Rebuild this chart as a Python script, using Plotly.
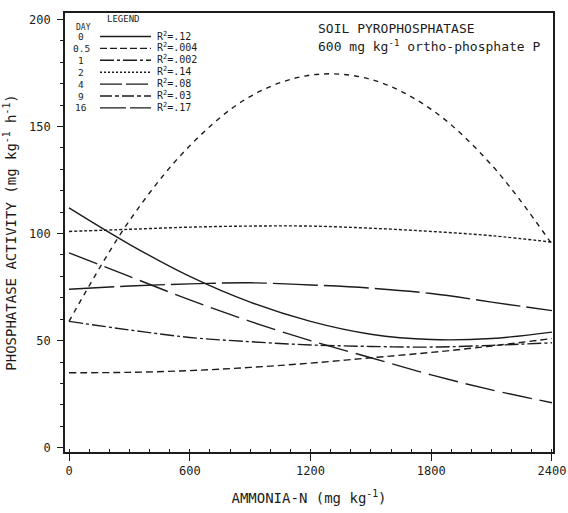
import plotly.graph_objects as go

# ---- data ----
ammonia_n = [0, 300, 600, 900, 1200, 1500, 1800, 2100, 2400]
day_labels = ["0", "0.5", "1", "2", "4", "9", "16"]
r2_labels = [".12", ".004", ".002", ".14", ".08", ".03", ".17"]
day0 = [112, 95, 80, 68, 59, 53, 50.5, 51, 54]
day05 = [35, 35.2, 36, 37.5, 39.5, 42, 44.5, 47.5, 51]
day1 = [59, 55, 51.5, 49.5, 48, 47.3, 47, 47.8, 49]
day2 = [101, 102, 103, 103.5, 103.5, 102.5, 101, 99, 96]
day4 = [74, 75.5, 76.5, 77, 76, 74.5, 72, 68, 64]
day9 = [59, 106, 141, 164, 174, 172, 158, 132, 95]
day16 = [91, 80, 69, 59, 50, 42, 34, 27, 21]
x_ticks = [0, 600, 1200, 1800, 2400]
y_ticks = [0, 50, 100, 150, 200]

series = [day0, day05, day1, day2, day4, day9, day16]
dashes = ["solid", "7px,4px", "14px,3px,3px,3px", "3px,2px",
          "45px,6px", "5px,5px", "30px,8px"]
legend_dashes = ["solid", "7px,3px", "14px,3px,3px,3px", "2px,2px",
                 "22px,4px", "12px,3px,4px,3px", "26px,4px"]

W, H = 568, 513
ML, MR, MT, MB = 65, 15, 13, 61
PW, PH = W - ML - MR, H - MT - MB


def px(xp):  # page pixel -> paper x
    return (xp - ML) / PW


def py(yp):  # page pixel -> paper y
    return (H - MB - yp) / PH


INK = "#1c1c1c"
FONT = "DejaVu Sans Mono"

fig = go.Figure()
for name, vals, d in zip(day_labels, series, dashes):
    fig.add_trace(go.Scatter(
        x=ammonia_n, y=vals, mode="lines", name="Day " + name,
        line=dict(color=INK, width=1.4, dash=d, shape="spline", smoothing=1.0),
        showlegend=False))

shapes = []
annotations = []


def note(x, y, text, size, xanchor="left"):
    annotations.append(dict(x=px(x), y=py(y), xref="paper", yref="paper",
                            text=text, showarrow=False, xanchor=xanchor,
                            yanchor="middle",
                            font=dict(family=FONT, size=size, color=INK)))


# legend block
note(105, 19, "LEGEND", 9)
note(74, 28, "DAY", 8)
row0, step = 36.5, 11.9
for i, (dl, r2, ld) in enumerate(zip(day_labels, r2_labels, legend_dashes)):
    yy = row0 + i * step
    note(81, yy, dl, 9.5, "center")
    shapes.append(dict(type="line", xref="paper", yref="paper",
                       x0=px(100), x1=px(151), y0=py(yy), y1=py(yy),
                       line=dict(color=INK, width=1.4, dash=ld)))
    note(155, yy - 1, "R<sup>2</sup>=" + r2, 10)

# title block
note(316, 29, "SOIL PYROPHOSPHATASE", 13)
note(316, 46, "600 mg kg<sup>-1</sup> ortho-phosphate P", 13)

fig.update_layout(
    width=W, height=H, autosize=False,
    margin=dict(l=ML, r=MR, t=MT, b=MB, autoexpand=False),
    paper_bgcolor="white", plot_bgcolor="white",
    shapes=shapes, annotations=annotations,
    font=dict(family=FONT, color=INK),
)
fig.update_xaxes(
    range=[-20, 2405], tickvals=x_ticks, ticktext=[str(v) for v in x_ticks],
    automargin=False,
    ticks="outside", ticklen=7, tickwidth=1.3, tickcolor=INK,
    ticklabeloverflow="allow",
    showline=True, linecolor=INK, linewidth=1.6, mirror=True,
    showgrid=False, zeroline=False,
    tickfont=dict(family=FONT, size=12, color=INK),
    minor=dict(dtick=100, tick0=0, ticks="inside", ticklen=3, tickcolor=INK,
               tickwidth=1, showgrid=False),
    title=dict(text="AMMONIA-N (mg kg<sup>-1</sup>)", standoff=16,
               font=dict(family=FONT, size=14, color=INK)),
)
fig.update_yaxes(
    range=[-2, 203], tickvals=y_ticks, ticktext=[str(v) for v in y_ticks],
    automargin=False,
    ticks="outside", ticklen=6, tickwidth=1.3, tickcolor=INK,
    ticklabelstandoff=4,
    showline=True, linecolor=INK, linewidth=1.6, mirror=True,
    showgrid=False, zeroline=False,
    tickfont=dict(family=FONT, size=12, color=INK),
    minor=dict(dtick=10, tick0=0, ticks="outside", ticklen=3, tickcolor=INK,
               tickwidth=1, showgrid=False),
    title=dict(text="PHOSPHATASE ACTIVITY (mg kg<sup>-1</sup> h<sup>-1</sup>)",
               standoff=9, font=dict(family=FONT, size=14, color=INK)),
)

fig.write_html(
    "out.html",
    config={"displayModeBar": False, "responsive": False},
    post_script="document.body.style.margin='0px';"
                "document.body.style.overflow='hidden';",
)
